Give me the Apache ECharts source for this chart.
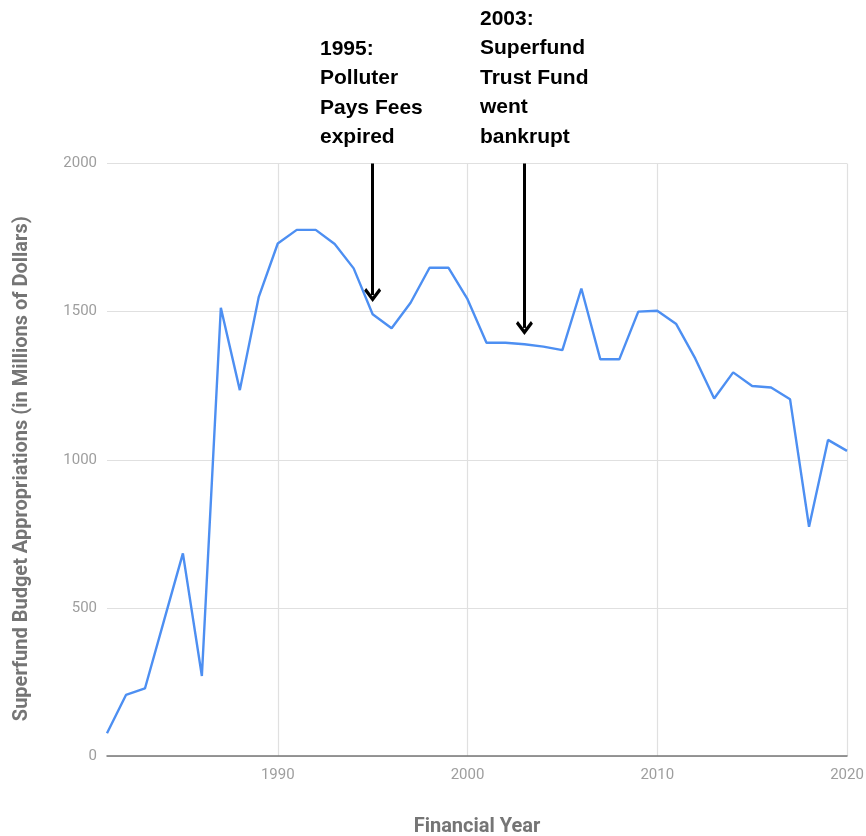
<!DOCTYPE html>
<html>
<head>
<meta charset="utf-8">
<script src="https://cdn.jsdelivr.net/npm/echarts@6/dist/echarts.min.js"></script>
<style>
  html, body { margin: 0; padding: 0; background: #fff; }
  #chart { width: 866px; height: 836px; }
</style>
</head>
<body>
<div id="chart"></div>
<script>
const years = [];
for (let y = 1981; y <= 2020; y++) years.push(String(y));
const appropriations = [
  77, 206, 228, 456, 684, 270, 1513, 1235, 1550, 1730,
  1776, 1776, 1728, 1646, 1491, 1444, 1530, 1648, 1648, 1542,
  1395, 1395, 1390, 1382, 1370, 1578, 1339, 1339, 1500, 1503,
  1458, 1342, 1207, 1295, 1249, 1244, 1204, 774, 1067, 1030
];
const yTicks = [0, 500, 1000, 1500, 2000];
const annotations = [
  { year: '1995', tip: 1556, text: '1995:\nPolluter\nPays Fees\nexpired' },
  { year: '2003', tip: 1445, text: '2003:\nSuperfund\nTrust Fund\nwent\nbankrupt' }
];

const chart = echarts.init(document.getElementById('chart'));
const chevron = 'path://M0,0 L10,10 L7.6,12.4 L0,4.8 L-7.6,12.4 L-10,10 Z';

chart.setOption({
  animation: false,
  backgroundColor: '#fff',
  grid: {
    left: 107, right: 19, top: 163.5, bottom: 80,
    containLabel: false, outerBoundsMode: 'none'
  },
  xAxis: {
    type: 'category',
    data: years,
    boundaryGap: false,
    name: 'Financial Year',
    nameLocation: 'middle',
    nameGap: 61,
    nameTextStyle: { fontFamily: 'Roboto', fontWeight: 'bold', fontSize: 20, color: '#757575' },
    axisLine: { show: true, lineStyle: { color: '#757575', width: 1.5 } },
    axisTick: { show: false },
    axisLabel: {
      interval: (i, v) => Number(v) % 10 === 0,
      fontFamily: 'Roboto', fontSize: 15, color: '#9e9e9e', margin: 12
    },
    splitLine: {
      show: true,
      interval: (i, v) => Number(v) % 10 === 0,
      lineStyle: { color: '#e0e0e0', width: 1.2 }
    }
  },
  yAxis: {
    type: 'value',
    min: yTicks[0],
    max: yTicks[yTicks.length - 1],
    interval: 500,
    name: 'Superfund Budget Appropriations (in Millions of Dollars)',
    nameLocation: 'middle',
    nameGap: 75,
    nameTextStyle: {
      fontFamily: 'Roboto', fontWeight: 'bold', fontSize: 20, color: '#757575',
      padding: [0, 18, 0, 0]
    },
    axisLine: { show: false },
    axisTick: { show: false },
    axisLabel: {
      fontFamily: 'Roboto', fontSize: 15, color: '#9e9e9e', margin: 10,
      formatter: v => String(v)
    },
    splitLine: { show: true, lineStyle: { color: '#e0e0e0', width: 1.2 } }
  },
  series: [{
    type: 'line',
    data: appropriations,
    showSymbol: false,
    symbol: 'none',
    lineStyle: { color: '#4d8ff2', width: 2.4 },
    markLine: {
      silent: true,
      symbol: ['none', chevron],
      symbolSize: [17, 14],
      label: { show: false },
      lineStyle: { color: '#000', width: 3, type: 'solid' },
      data: annotations.map(a => [
        { coord: [a.year, 2000] },
        { coord: [a.year, a.tip] }
      ])
    }
  }],
  graphic: [
    {
      type: 'text', left: 320, top: 34,
      style: { text: annotations[0].text, font: 'bold 21px "Liberation Sans", Arial, sans-serif', lineHeight: 29.5, fill: '#000' }
    },
    {
      type: 'text', left: 480, top: 4,
      style: { text: annotations[1].text, font: 'bold 21px "Liberation Sans", Arial, sans-serif', lineHeight: 29.5, fill: '#000' }
    }
  ]
});
</script>
</body>
</html>
